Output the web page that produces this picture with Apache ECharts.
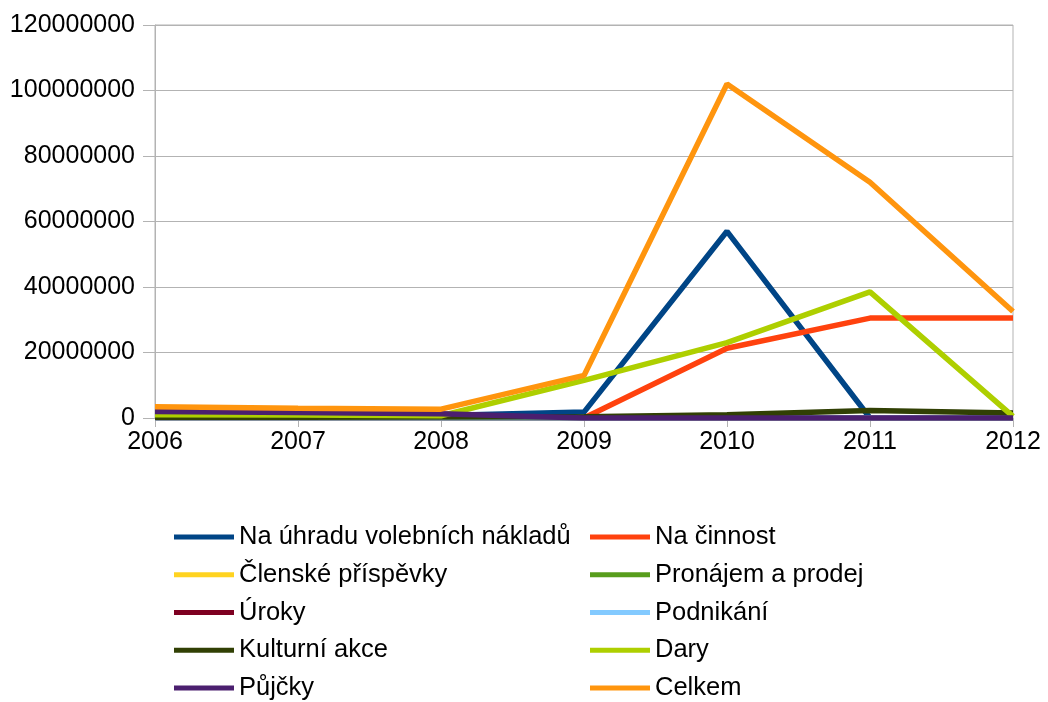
<!DOCTYPE html>
<html>
<head>
<meta charset="utf-8">
<script src="https://cdn.jsdelivr.net/npm/echarts@6/dist/echarts.min.js"></script>
<style>
  html, body { margin: 0; padding: 0; background: #fff; }
  #chart { width: 1048px; height: 702px; }
</style>
</head>
<body>
<div id="chart"></div>
<script>
// data
const years = ['2006', '2007', '2008', '2009', '2010', '2011', '2012']

const naUhradu = [1200000, 1000000, 800000, 1800000, 57000000, 0, 0]
const naCinnost = [0, 0, 0, 0, 21300000, 30500000, 30500000]
const clenske = [0, 0, 0, 0, 0, 0, 0]
const pronajem = [0, 0, 0, 0, 0, 0, 0]
const uroky = [0, 0, 0, 0, 0, 0, 0]
const podnikani = [0, 0, 0, 0, 0, 0, 0]
const kulturni = [200000, 200000, 300000, 400000, 1000000, 2300000, 1500000]
const dary = [1000000, 900000, 700000, 11500000, 23000000, 38500000, 500000]
const pujcky = [2000000, 1700000, 1300000, 0, 0, 0, 0]
const celkem = [3400000, 3000000, 2700000, 13000000, 102000000, 72000000, 32500000]

const seriesList = [
  { name: 'Na úhradu volebních nákladů', data: naUhradu, color: '#004586' },
  { name: 'Na činnost', data: naCinnost, color: '#ff420e' },
  { name: 'Členské příspěvky', data: clenske, color: '#ffd320' },
  { name: 'Pronájem a prodej', data: pronajem, color: '#579d1c' },
  { name: 'Úroky', data: uroky, color: '#7e0021' },
  { name: 'Podnikání', data: podnikani, color: '#83caff' },
  { name: 'Kulturní akce', data: kulturni, color: '#314004' },
  { name: 'Dary', data: dary, color: '#aecf00' },
  { name: 'Půjčky', data: pujcky, color: '#4b1f6f' },
  { name: 'Celkem', data: celkem, color: '#ff950e' }
]

const font = 'Liberation Sans, Arial, sans-serif'
const chart = echarts.init(document.getElementById('chart'))

const legendBase = {
  orient: 'vertical',
  top: 524,
  height: 200,
  padding: 0,
  icon: 'rect',
  itemWidth: 60,
  itemHeight: 5,
  itemGap: 11.75,
  selectedMode: false,
  textStyle: { fontFamily: font, fontSize: 25.5, color: '#000', lineHeight: 26 }
}

chart.setOption({
  animation: false,
  grid: {
    left: 155, right: 35, top: 25, bottom: 284,
    show: true, borderColor: '#b3b3b3', borderWidth: 1
  },
  legend: [
    Object.assign({}, legendBase, { left: 174, data: seriesList.filter((s, i) => i % 2 === 0).map(s => s.name) }),
    Object.assign({}, legendBase, { left: 590, data: seriesList.filter((s, i) => i % 2 === 1).map(s => s.name) })
  ],
  xAxis: {
    type: 'category',
    data: years,
    boundaryGap: false,
    axisLine: { lineStyle: { color: '#b3b3b3' } },
    axisTick: { length: 9, lineStyle: { color: '#b3b3b3' } },
    axisLabel: { fontFamily: font, fontSize: 25, color: '#000', margin: 12 },
    splitLine: { show: false }
  },
  yAxis: {
    type: 'value',
    min: 0,
    max: 120000000,
    interval: 20000000,
    axisLine: { show: true, lineStyle: { color: '#b3b3b3' } },
    axisTick: { show: true, length: 12, lineStyle: { color: '#b3b3b3' } },
    axisLabel: { fontFamily: font, fontSize: 25, color: '#000', margin: 20, formatter: v => String(v) },
    splitLine: { lineStyle: { color: '#b3b3b3' } }
  },
  series: seriesList.map(s => ({
    name: s.name,
    type: 'line',
    data: s.data,
    color: s.color,
    showSymbol: false,
    lineStyle: { width: 5.5, color: s.color }
  }))
})
</script>
</body>
</html>
